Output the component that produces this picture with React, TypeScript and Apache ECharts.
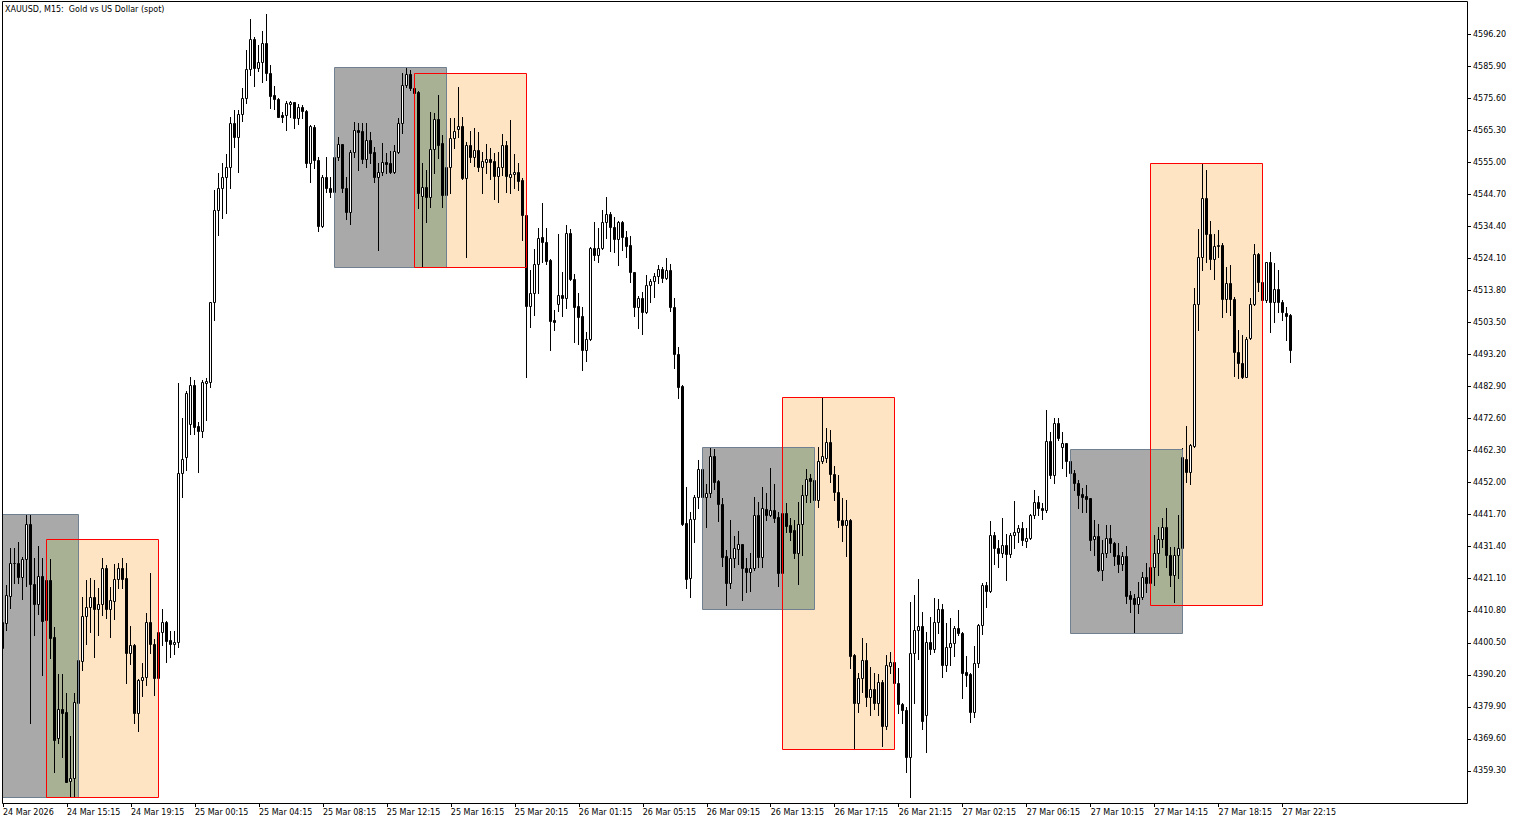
import React, { useEffect, useRef } from "react";
import * as echarts from "echarts";

const chartTitle = "XAUUSD, M15:  Gold vs US Dollar (spot)";

const xTickLabels = [
  "24 Mar 2026", "24 Mar 15:15", "24 Mar 19:15", "25 Mar 00:15", "25 Mar 04:15", "25 Mar 08:15",
  "25 Mar 12:15", "25 Mar 16:15", "25 Mar 20:15", "26 Mar 01:15", "26 Mar 05:15", "26 Mar 09:15",
  "26 Mar 13:15", "26 Mar 17:15", "26 Mar 21:15", "27 Mar 02:15", "27 Mar 06:15", "27 Mar 10:15",
  "27 Mar 14:15", "27 Mar 18:15", "27 Mar 22:15",
];
const barsPerXTick = 16;

const yTickLabels = [
  "4359.30", "4369.60", "4379.90", "4390.20", "4400.50", "4410.80", "4421.10", "4431.40",
  "4441.70", "4452.00", "4462.30", "4472.60", "4482.90", "4493.20", "4503.50", "4513.80",
  "4524.10", "4534.40", "4544.70", "4555.00", "4565.30", "4575.60", "4585.90", "4596.20",
];

const opens = [
  4398.8, 4407.0, 4415.6, 4426.1, 4426.1, 4421.6, 4427.4, 4438.7, 4419.4, 4412.9,
  4422.0, 4420.7, 4420.7, 4402.5, 4369.8, 4379.1, 4378.3, 4356.2, 4357.0, 4381.3,
  4394.8, 4409.1, 4412.1, 4415.3, 4411.3, 4412.9, 4424.5, 4411.3, 4414.0, 4421.0,
  4424.5, 4421.2, 4397.3, 4399.8, 4378.0, 4388.6, 4389.4, 4407.2, 4400.1, 4389.1,
  4404.1, 4407.3, 4401.4, 4400.0, 4400.6, 4455.2, 4460.1, 4470.8, 4483.3, 4470.2,
  4468.7, 4484.1, 4484.4, 4510.2, 4539.6, 4546.6, 4550.1, 4553.4, 4567.5, 4563.0,
  4570.4, 4575.5, 4584.9, 4594.6, 4585.2, 4587.1, 4593.2, 4583.6, 4576.6, 4575.2,
  4570.2, 4570.2, 4573.8, 4574.3, 4569.3, 4572.7, 4571.5, 4554.6, 4566.2, 4555.7,
  4534.6, 4550.1, 4546.6, 4545.3, 4556.6, 4560.8, 4546.6, 4539.1, 4558.2, 4565.3,
  4565.0, 4555.9, 4562.1, 4558.2, 4550.3, 4551.7, 4555.0, 4554.6, 4551.9, 4558.4,
  4567.5, 4579.8, 4583.3, 4578.7, 4577.6, 4544.2, 4546.9, 4543.7, 4559.1, 4568.8,
  4561.1, 4544.4, 4553.4, 4562.7, 4565.6, 4566.6, 4549.8, 4560.5, 4556.8, 4558.9,
  4553.6, 4555.2, 4556.0, 4555.4, 4550.6, 4553.4, 4560.5, 4550.3, 4551.1, 4551.8,
  4549.3, 4538.0, 4508.8, 4512.9, 4522.2, 4531.0, 4529.2, 4523.6, 4504.3, 4509.3,
  4512.3, 4511.4, 4532.1, 4517.4, 4508.8, 4505.6, 4494.6, 4498.1, 4527.5, 4525.2,
  4527.5, 4535.7, 4538.2, 4534.3, 4530.2, 4535.7, 4531.0, 4528.4, 4519.6, 4508.5,
  4511.2, 4506.7, 4515.5, 4516.8, 4518.4, 4520.7, 4517.9, 4520.4, 4508.5, 4493.2,
  4483.1, 4438.9, 4421.2, 4440.3, 4447.3, 4456.4, 4447.5, 4448.6, 4460.7, 4452.5,
  4445.0, 4428.4, 4419.6, 4427.7, 4430.6, 4432.2, 4424.7, 4423.4, 4424.7, 4441.6,
  4428.2, 4443.5, 4441.6, 4443.2, 4441.0, 4423.0, 4442.1, 4438.4, 4436.8, 4429.3,
  4438.6, 4448.0, 4453.4, 4452.8, 4446.4, 4459.0, 4460.0, 4464.9, 4454.7, 4449.1,
  4440.0, 4438.4, 4440.0, 4396.6, 4381.3, 4389.1, 4395.0, 4383.2, 4385.6, 4381.3,
  4388.0, 4373.8, 4393.1, 4394.4, 4387.7, 4380.8, 4378.9, 4363.9, 4397.1, 4404.6,
  4405.9, 4377.3, 4400.9, 4398.4, 4407.3, 4411.3, 4393.4, 4399.3, 4400.4, 4405.2,
  4403.8, 4391.1, 4390.5, 4378.4, 4393.9, 4406.2, 4419.1, 4417.3, 4435.2, 4430.9,
  4429.5, 4431.9, 4429.1, 4435.2, 4436.0, 4437.3, 4433.3, 4434.1, 4441.6, 4445.7,
  4443.9, 4443.2, 4465.5, 4454.5, 4471.1, 4463.4, 4464.6, 4459.0, 4455.0, 4452.0,
  4448.3, 4447.7, 4447.0, 4433.8, 4434.9, 4423.9, 4429.5, 4434.1, 4432.7, 4428.7,
  4425.8, 4428.4, 4415.9, 4414.8, 4412.9, 4415.1, 4421.6, 4419.6, 4424.8, 4429.3,
  4433.9, 4437.8, 4428.7, 4422.3, 4428.7, 4431.1, 4459.6, 4455.3, 4463.8, 4509.3,
  4524.4, 4543.4, 4531.8, 4523.8, 4528.2, 4528.4, 4510.9, 4516.1, 4511.0, 4493.9,
  4490.3, 4486.0, 4498.4, 4509.3, 4525.4, 4516.6, 4510.7, 4522.8, 4510.0, 4514.2,
  4510.2, 4506.4, 4505.9,
];

const highs = [
  4407.8, 4419.1, 4430.9, 4430.9, 4433.0, 4428.2, 4441.9, 4441.9, 4427.7, 4431.7,
  4427.7, 4422.3, 4427.4, 4405.7, 4390.5, 4390.5, 4384.3, 4370.6, 4384.3, 4395.3,
  4415.3, 4420.7, 4421.2, 4420.7, 4418.0, 4427.7, 4425.5, 4418.4, 4425.8, 4426.1,
  4427.7, 4426.1, 4405.9, 4400.0, 4388.8, 4393.9, 4410.0, 4423.0, 4401.6, 4404.3,
  4411.3, 4407.5, 4404.4, 4404.4, 4483.9, 4472.7, 4481.4, 4486.0, 4485.0, 4471.6,
  4485.0, 4485.5, 4510.2, 4546.1, 4551.4, 4554.6, 4557.5, 4569.6, 4571.8, 4571.8,
  4578.8, 4591.1, 4601.0, 4595.3, 4592.7, 4597.2, 4602.6, 4586.2, 4579.5, 4575.5,
  4571.2, 4574.7, 4574.7, 4574.4, 4573.6, 4573.4, 4571.8, 4566.9, 4566.9, 4556.8,
  4550.9, 4556.8, 4550.3, 4557.3, 4563.2, 4561.0, 4550.3, 4558.9, 4568.0, 4567.7,
  4567.5, 4567.7, 4564.8, 4559.8, 4554.6, 4561.1, 4557.9, 4558.7, 4560.5, 4569.1,
  4583.6, 4585.5, 4584.6, 4578.8, 4577.8, 4554.6, 4552.5, 4571.2, 4570.7, 4576.6,
  4563.7, 4553.5, 4569.1, 4569.1, 4579.1, 4569.4, 4561.6, 4565.1, 4565.9, 4564.8,
  4558.4, 4560.8, 4559.5, 4557.9, 4558.4, 4564.0, 4561.9, 4568.6, 4557.6, 4554.6,
  4549.8, 4538.2, 4520.3, 4527.1, 4533.7, 4541.8, 4533.9, 4523.8, 4507.5, 4531.8,
  4519.6, 4534.8, 4533.5, 4519.0, 4512.9, 4508.5, 4500.5, 4527.8, 4535.9, 4533.8,
  4539.6, 4543.9, 4538.9, 4537.5, 4536.1, 4536.1, 4532.9, 4531.4, 4519.8, 4512.0,
  4513.4, 4518.7, 4517.5, 4519.3, 4522.0, 4521.4, 4524.3, 4522.2, 4511.2, 4495.7,
  4483.4, 4450.7, 4442.7, 4448.0, 4459.3, 4456.7, 4451.5, 4463.6, 4462.8, 4452.8,
  4447.1, 4430.3, 4440.0, 4434.9, 4436.4, 4432.3, 4427.7, 4429.3, 4447.5, 4445.9,
  4450.7, 4448.6, 4456.6, 4451.5, 4442.7, 4443.2, 4445.4, 4440.7, 4440.0, 4445.7,
  4451.2, 4456.4, 4454.7, 4453.5, 4463.6, 4479.3, 4469.5, 4468.9, 4457.4, 4454.5,
  4447.0, 4446.4, 4440.2, 4396.8, 4390.7, 4402.0, 4400.4, 4392.8, 4390.9, 4390.5,
  4388.6, 4396.6, 4397.6, 4394.7, 4392.3, 4381.0, 4380.0, 4413.7, 4415.9, 4420.9,
  4410.5, 4404.1, 4408.7, 4414.8, 4414.5, 4413.0, 4407.0, 4408.4, 4405.9, 4411.1,
  4404.1, 4396.3, 4390.9, 4399.5, 4406.4, 4419.8, 4420.2, 4439.8, 4436.2, 4433.6,
  4440.5, 4435.5, 4435.9, 4446.2, 4438.4, 4439.4, 4437.3, 4441.9, 4449.6, 4447.7,
  4445.4, 4475.3, 4468.4, 4472.7, 4472.7, 4468.4, 4464.8, 4459.3, 4456.1, 4452.8,
  4450.2, 4451.2, 4447.2, 4440.0, 4438.7, 4433.6, 4438.4, 4438.4, 4433.0, 4432.7,
  4429.8, 4431.6, 4417.3, 4416.2, 4420.2, 4423.4, 4426.1, 4425.5, 4435.2, 4437.8,
  4440.5, 4443.7, 4431.4, 4431.4, 4441.6, 4463.0, 4470.3, 4464.3, 4514.5, 4533.5,
  4554.9, 4552.5, 4536.1, 4531.8, 4533.2, 4528.9, 4521.4, 4521.9, 4511.8, 4501.1,
  4499.5, 4498.9, 4511.2, 4528.6, 4525.7, 4517.8, 4523.0, 4526.0, 4522.5, 4520.3,
  4510.7, 4508.5, 4506.1,
];

const lows = [
  4398.2, 4404.6, 4411.6, 4419.6, 4419.6, 4414.5, 4418.6, 4374.8, 4403.0, 4409.7,
  4390.2, 4406.2, 4395.5, 4359.1, 4368.4, 4363.7, 4355.8, 4351.0, 4351.0, 4381.2,
  4391.8, 4400.1, 4404.1, 4395.9, 4403.0, 4409.4, 4408.4, 4402.3, 4408.1, 4418.0,
  4418.0, 4387.7, 4393.7, 4374.6, 4372.3, 4383.4, 4386.9, 4397.1, 4383.7, 4388.6,
  4399.8, 4394.4, 4396.0, 4396.9, 4399.1, 4447.3, 4456.1, 4467.6, 4467.6, 4455.5,
  4466.8, 4472.1, 4482.8, 4504.3, 4531.6, 4537.2, 4538.6, 4546.6, 4560.0, 4551.9,
  4568.2, 4573.9, 4583.0, 4579.6, 4584.3, 4580.9, 4581.4, 4572.5, 4572.1, 4569.5,
  4567.8, 4565.3, 4569.6, 4566.1, 4567.2, 4569.3, 4553.6, 4548.5, 4553.2, 4532.9,
  4534.3, 4545.5, 4543.7, 4545.1, 4555.7, 4545.5, 4536.6, 4535.1, 4556.8, 4552.5,
  4554.6, 4553.6, 4554.6, 4548.7, 4526.8, 4550.9, 4551.4, 4551.4, 4551.6, 4557.9,
  4564.3, 4579.3, 4578.2, 4576.6, 4540.2, 4521.4, 4535.9, 4540.7, 4551.4, 4556.2,
  4540.7, 4544.1, 4545.2, 4559.5, 4563.2, 4549.5, 4524.4, 4555.2, 4553.8, 4552.3,
  4545.2, 4551.6, 4549.5, 4543.1, 4542.3, 4550.9, 4545.5, 4545.0, 4546.6, 4546.0,
  4530.0, 4486.0, 4502.1, 4505.9, 4512.9, 4522.8, 4522.2, 4494.6, 4501.1, 4507.2,
  4505.7, 4508.2, 4517.1, 4497.3, 4496.5, 4488.2, 4491.1, 4497.8, 4523.6, 4522.8,
  4527.1, 4530.7, 4526.5, 4526.0, 4521.9, 4526.8, 4524.6, 4516.6, 4505.7, 4501.8,
  4499.7, 4506.4, 4510.2, 4511.8, 4516.1, 4516.4, 4517.5, 4507.2, 4488.9, 4479.1,
  4438.4, 4418.2, 4415.3, 4433.0, 4443.7, 4447.2, 4437.8, 4447.5, 4449.9, 4439.7,
  4425.3, 4412.7, 4418.2, 4425.0, 4425.8, 4414.3, 4416.7, 4417.1, 4423.9, 4425.0,
  4425.0, 4440.0, 4441.4, 4439.2, 4418.9, 4422.3, 4436.2, 4433.6, 4427.7, 4419.4,
  4428.7, 4445.7, 4445.9, 4445.8, 4444.3, 4458.2, 4458.5, 4452.1, 4446.4, 4437.8,
  4433.3, 4428.4, 4392.5, 4366.3, 4378.4, 4384.8, 4380.2, 4377.3, 4379.1, 4377.3,
  4367.3, 4372.7, 4390.7, 4387.3, 4377.9, 4374.8, 4359.1, 4351.0, 4381.1, 4395.2,
  4372.7, 4365.5, 4396.9, 4397.7, 4403.8, 4389.6, 4391.5, 4393.4, 4396.3, 4403.0,
  4382.7, 4386.6, 4375.2, 4376.8, 4392.8, 4403.3, 4411.9, 4416.9, 4425.8, 4425.0,
  4428.0, 4420.7, 4428.0, 4430.9, 4433.0, 4431.9, 4431.4, 4433.8, 4440.5, 4441.6,
  4440.2, 4442.7, 4453.4, 4451.8, 4465.7, 4456.6, 4454.1, 4454.8, 4449.6, 4443.7,
  4442.7, 4442.7, 4430.3, 4428.7, 4423.7, 4420.7, 4428.2, 4429.8, 4425.5, 4423.4,
  4423.9, 4413.2, 4410.5, 4403.8, 4410.2, 4414.5, 4416.9, 4419.1, 4419.1, 4422.3,
  4431.4, 4425.0, 4418.6, 4413.5, 4421.2, 4430.9, 4452.3, 4451.5, 4463.6, 4501.1,
  4520.3, 4523.0, 4520.7, 4517.5, 4524.6, 4505.3, 4506.7, 4505.9, 4486.4, 4485.7,
  4485.7, 4485.9, 4498.2, 4509.1, 4513.6, 4510.4, 4510.2, 4500.3, 4503.5, 4506.7,
  4504.3, 4497.8, 4490.9,
];

const closes = [
  4407.3, 4415.9, 4426.1, 4426.3, 4421.6, 4427.4, 4438.7, 4419.4, 4412.9, 4422.0,
  4407.6, 4407.8, 4402.2, 4369.3, 4379.1, 4378.0, 4355.9, 4357.0, 4381.5, 4395.0,
  4409.1, 4412.1, 4415.3, 4411.3, 4412.9, 4424.5, 4411.3, 4414.3, 4421.0, 4424.5,
  4421.0, 4397.3, 4399.8, 4378.0, 4388.6, 4389.4, 4407.2, 4400.1, 4389.1, 4404.1,
  4407.3, 4401.2, 4400.0, 4400.7, 4455.2, 4459.5, 4480.7, 4483.3, 4470.0, 4468.7,
  4484.2, 4484.8, 4510.0, 4539.6, 4546.6, 4550.1, 4553.4, 4567.5, 4563.0, 4570.4,
  4575.5, 4584.9, 4594.6, 4585.2, 4587.1, 4593.2, 4583.6, 4576.4, 4575.2, 4569.6,
  4569.6, 4573.9, 4574.3, 4569.3, 4572.7, 4571.5, 4554.6, 4566.6, 4555.7, 4534.6,
  4550.1, 4546.6, 4545.3, 4556.7, 4560.8, 4546.6, 4539.1, 4558.2, 4565.3, 4564.8,
  4555.9, 4562.1, 4558.0, 4550.1, 4551.7, 4555.0, 4554.4, 4551.9, 4558.7, 4567.5,
  4579.8, 4583.3, 4578.7, 4577.3, 4545.0, 4547.1, 4543.7, 4559.1, 4568.8, 4560.5,
  4544.4, 4553.4, 4562.7, 4565.1, 4566.6, 4549.8, 4560.5, 4556.8, 4558.9, 4553.6,
  4555.5, 4556.0, 4555.2, 4550.6, 4553.4, 4560.5, 4550.6, 4551.2, 4551.8, 4549.0,
  4538.0, 4508.8, 4512.9, 4522.2, 4530.5, 4529.2, 4523.2, 4504.0, 4503.7, 4512.3,
  4511.4, 4532.1, 4517.4, 4508.5, 4505.3, 4494.6, 4498.1, 4527.5, 4525.2, 4527.5,
  4535.7, 4538.2, 4534.3, 4530.2, 4535.7, 4531.0, 4528.2, 4519.6, 4508.5, 4511.2,
  4506.7, 4515.5, 4516.8, 4518.4, 4520.7, 4517.9, 4520.4, 4508.5, 4493.2, 4482.8,
  4438.6, 4421.0, 4440.3, 4447.3, 4456.4, 4447.5, 4448.6, 4460.7, 4452.3, 4445.0,
  4428.2, 4419.6, 4427.7, 4430.9, 4432.2, 4424.5, 4423.4, 4424.7, 4441.6, 4428.2,
  4443.7, 4441.6, 4443.2, 4440.7, 4423.0, 4442.1, 4438.2, 4436.2, 4429.3, 4438.6,
  4448.0, 4453.2, 4452.5, 4446.4, 4459.0, 4460.7, 4464.9, 4454.7, 4448.9, 4440.0,
  4438.4, 4440.0, 4396.4, 4381.3, 4389.1, 4395.0, 4383.2, 4385.6, 4381.3, 4388.0,
  4373.8, 4393.4, 4394.4, 4387.7, 4380.8, 4378.9, 4363.9, 4397.1, 4404.6, 4405.9,
  4375.5, 4400.9, 4398.4, 4407.3, 4411.3, 4393.4, 4399.3, 4400.4, 4405.2, 4403.8,
  4390.9, 4390.2, 4378.4, 4393.9, 4406.2, 4419.1, 4417.3, 4435.2, 4430.9, 4429.5,
  4431.9, 4429.1, 4435.2, 4436.0, 4437.3, 4433.6, 4434.1, 4441.6, 4445.7, 4443.7,
  4443.2, 4465.5, 4454.5, 4471.1, 4466.2, 4464.6, 4459.0, 4455.0, 4452.0, 4448.0,
  4447.5, 4446.6, 4433.6, 4434.9, 4423.9, 4429.5, 4434.1, 4432.7, 4428.5, 4425.8,
  4428.4, 4415.6, 4414.6, 4412.9, 4415.1, 4421.6, 4419.8, 4424.8, 4429.3, 4433.8,
  4437.8, 4428.7, 4422.3, 4428.7, 4431.1, 4460.3, 4455.3, 4464.1, 4509.3, 4524.4,
  4543.4, 4531.8, 4523.8, 4528.2, 4528.4, 4510.9, 4516.1, 4511.0, 4493.9, 4490.3,
  4486.0, 4498.2, 4509.3, 4525.4, 4516.6, 4510.7, 4522.8, 4510.0, 4514.2, 4510.0,
  4506.7, 4505.7, 4494.6,
];

// zones: [fromBar, topPrice, toBar, bottomPrice]
const grayZones = [
  [-6, 4441.9, 19, 4351.0],
  [83, 4585.5, 111, 4521.2],
  [175, 4463.6, 203, 4411.4],
  [267, 4462.7, 295, 4403.6],
];
const orangeZones = [
  [11, 4433.8, 39, 4351.0],
  [103, 4583.6, 131, 4521.2],
  [195, 4479.4, 223, 4366.3],
  [287, 4554.9, 315, 4412.7],
];

const FONT = '"DejaVu Sans", sans-serif';

function zoneSeries(name: string, data: number[][], fill: string, stroke: string, z: number) {
  return {
    type: "custom",
    name,
    data,
    z,
    silent: true,
    clip: true,
    encode: { x: [0, 2], y: [1, 3] },
    renderItem: (_params: any, api: any) => {
      const p1 = api.coord([api.value(0), api.value(1)]);
      const p2 = api.coord([api.value(2), api.value(3)]);
      const x1 = Math.floor(p1[0]) + 0.5;
      const x2 = Math.floor(p2[0]) + 0.5;
      const y1 = Math.round(p1[1]) + 0.5;
      const y2 = Math.round(p2[1]) + 0.5;
      return {
        type: "rect",
        shape: { x: x1, y: y1, width: x2 - x1, height: y2 - y1 },
        style: { fill, stroke, lineWidth: 1 },
      };
    },
  };
}

function buildOption() {
  const candles = opens.map((o, i) => [i, o, closes[i], lows[i], highs[i]]);
  const overlaps = grayZones.map((g, k) => {
    const o = orangeZones[k];
    return [Math.max(g[0], o[0]), Math.min(g[1], o[1]), Math.min(g[2], o[2]), Math.max(g[3], o[3])];
  });
  const xTickValues = xTickLabels.map((_, k) => k * barsPerXTick);
  const yTickValues = yTickLabels.map((s) => Number(s));

  return {
    animation: false,
    backgroundColor: "#ffffff",
    grid: { left: 2, top: 2, right: 54, bottom: 21, containLabel: false },
    graphic: [
      {
        type: "rect",
        z: 100,
        silent: true,
        shape: { x: 2.5, y: 1.5, width: 1465, height: 802 },
        style: { fill: "none", stroke: "#000", lineWidth: 1 },
      },
      {
        type: "text",
        left: 5,
        top: 5,
        z: 100,
        silent: true,
        style: { text: chartTitle, font: `8px ${FONT}`, fill: "#000" },
      },
    ],
    xAxis: {
      type: "value",
      min: -0.125,
      max: 366.125,
      axisLine: { show: false, onZero: false },
      splitLine: { show: false },
      axisTick: {
        show: true,
        customValues: xTickValues,
        length: 4,
        lineStyle: { color: "#000", width: 1 },
      },
      axisLabel: {
        customValues: xTickValues,
        formatter: (v: number) => xTickLabels[Math.round(v / barsPerXTick)] ?? "",
        align: "left",
        margin: 5,
        color: "#000",
        fontFamily: FONT,
        fontSize: 8,
      },
    },
    yAxis: {
      type: "value",
      position: "right",
      min: 4349.0,
      max: 4606.5,
      axisLine: { show: false, onZero: false },
      splitLine: { show: false },
      axisTick: {
        show: true,
        customValues: yTickValues,
        length: 4,
        lineStyle: { color: "#000", width: 1 },
      },
      axisLabel: {
        customValues: yTickValues,
        formatter: (v: number) => v.toFixed(2),
        margin: 6,
        padding: [2, 0, 0, 0],
        color: "#000",
        fontFamily: FONT,
        fontSize: 8,
      },
    },
    series: [
      zoneSeries("grayFill", grayZones, "#a9a9a9", "none", 1),
      zoneSeries("orangeFill", orangeZones, "#ffe4c4", "none", 2),
      zoneSeries("overlapFill", overlaps, "#a8b194", "none", 3),
      {
        type: "custom",
        name: "XAUUSD",
        data: candles,
        z: 5,
        silent: true,
        clip: true,
        encode: { x: 0, y: [1, 2, 3, 4] },
        renderItem: (_params: any, api: any) => {
          const i = api.value(0);
          const o = api.value(1);
          const c = api.value(2);
          const l = api.value(3);
          const h = api.value(4);
          const pO = api.coord([i, o]);
          const x = Math.floor(pO[0]) + 0.5;
          const yO = Math.round(pO[1]);
          const yC = Math.round(api.coord([i, c])[1]);
          const yH = Math.round(api.coord([i, h])[1]);
          const yL = Math.round(api.coord([i, l])[1]);
          const top = Math.min(yO, yC);
          const bot = Math.max(yO, yC);
          const bull = c >= o;
          return {
            type: "group",
            children: [
              {
                type: "line",
                shape: { x1: x, y1: yH, x2: x, y2: yL + 1 },
                style: { stroke: "#000", lineWidth: 1 },
              },
              {
                type: "rect",
                shape: { x: x - 1, y: top + 0.5, width: 2, height: bot - top },
                style: { fill: bull ? "#ffffff" : "#000000", stroke: "#000", lineWidth: 1 },
              },
            ],
          };
        },
      },
      zoneSeries("grayBorder", grayZones, "none", "#708090", 7),
      zoneSeries("orangeBorder", orangeZones, "none", "#ff0000", 8),
    ],
  };
}

export default function App() {
  const ref = useRef<HTMLDivElement | null>(null);
  useEffect(() => {
    if (!ref.current) return;
    const chart = echarts.init(ref.current, null, { renderer: "svg" });
    chart.setOption(buildOption() as any);
    return () => chart.dispose();
  }, []);
  return (
    <div
      ref={ref}
      style={{ position: "fixed", left: 0, top: 0, width: 1521, height: 824, background: "#fff" }}
    />
  );
}
